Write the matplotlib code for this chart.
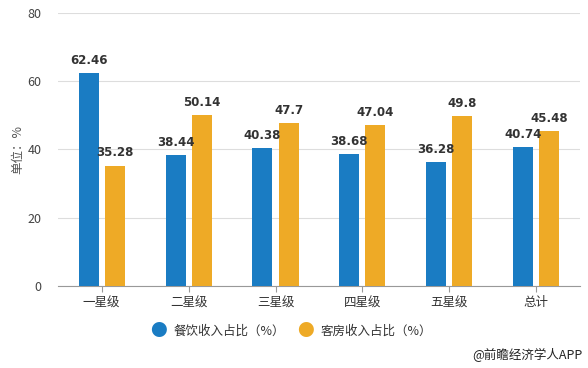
import numpy as np
import matplotlib.pyplot as plt

plt.rcParams['font.family'] = ['Noto Sans CJK SC', 'DejaVu Sans']

categories = ['一星级', '二星级', '三星级', '四星级', '五星级', '总计']
food = [62.46, 38.44, 40.38, 38.68, 36.28, 40.74]
rooms = [35.28, 50.14, 47.7, 47.04, 49.8, 45.48]
food_labels = ['62.46', '38.44', '40.38', '38.68', '36.28', '40.74']
room_labels = ['35.28', '50.14', '47.7', '47.04', '49.8', '45.48']

blue = '#1a7cc3'
orange = '#eeaa26'

fig = plt.figure(figsize=(5.88, 3.68), dpi=100)
ax = fig.add_axes([0.099, 0.223, 0.887, 0.742])

x = np.arange(len(categories))
off = 0.15
w = 0.23
b1 = ax.bar(x - off, food, w, color=blue, zorder=3)
b2 = ax.bar(x + off, rooms, w, color=orange, zorder=3)

for bars, labs in [(b1, food_labels), (b2, room_labels)]:
    for bar, lab in zip(bars, labs):
        ax.text(bar.get_x() + bar.get_width() / 2, bar.get_height() + 1.8, lab,
                ha='center', va='bottom', fontsize=8.5, fontweight='bold',
                color='#333333', family='DejaVu Sans')

ax.set_xlim(-0.5, 5.5)
ax.set_ylim(0, 80)
ax.set_yticks([0, 20, 40, 60, 80])
ax.set_xticks(x)
ax.set_xticklabels(categories)
ax.grid(axis='y', color='#dddddd', linewidth=0.8, zorder=0)
for s in ['top', 'right', 'left']:
    ax.spines[s].set_visible(False)
ax.spines['bottom'].set_color('#999999')
ax.tick_params(axis='y', length=0, labelsize=9, colors='#444444', pad=12)
ax.tick_params(axis='x', length=4, color='#999999', labelsize=9, colors='#333333')
ax.set_ylabel('单位：%', fontsize=9, color='#555555', labelpad=2)

# legend
fig.text(0.27, 0.1, '●', color=blue, fontsize=12, ha='center', va='center')
fig.text(0.296, 0.1, '餐饮收入占比（%）', fontsize=9, color='#333333', va='center')
fig.text(0.52, 0.1, '●', color=orange, fontsize=12, ha='center', va='center')
fig.text(0.546, 0.1, '客房收入占比（%）', fontsize=9, color='#333333', va='center')

fig.text(0.99, 0.035, '@前瞻经济学人APP', fontsize=9, color='#222222', ha='right', va='center')

fig.savefig('out.png', dpi=100)
